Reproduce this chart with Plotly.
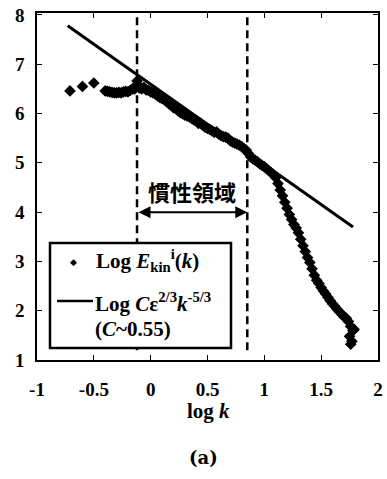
import plotly.graph_objects as go

# ---------------- data ----------------
log_k = [
    -0.71, -0.60, -0.50,
    -0.40, -0.38, -0.36, -0.34, -0.32, -0.30, -0.28, -0.26, -0.24, -0.22, -0.20, -0.18, -0.16, -0.14,
    -0.13, -0.12, -0.11, -0.10, -0.08, -0.06, -0.04, -0.02,
    0.00, 0.02, 0.04, 0.06, 0.08, 0.10, 0.12, 0.14, 0.16, 0.18,
    0.20, 0.22, 0.24, 0.26, 0.28, 0.30, 0.32, 0.34, 0.36, 0.38,
    0.40, 0.42, 0.44, 0.46, 0.48, 0.50, 0.52, 0.54, 0.56, 0.58,
    0.60, 0.62, 0.64, 0.66, 0.68, 0.70, 0.72, 0.74, 0.76, 0.78,
    0.80, 0.82, 0.84, 0.86, 0.88, 0.90, 0.92, 0.94, 0.96, 0.98,
    1.00, 1.02, 1.04, 1.06, 1.08, 1.10, 1.12, 1.14, 1.16, 1.18,
    1.20, 1.22, 1.24, 1.26, 1.28, 1.30, 1.32, 1.34, 1.36, 1.38,
    1.40, 1.42, 1.44, 1.46, 1.48, 1.50, 1.52, 1.54, 1.56, 1.58,
    1.60, 1.62, 1.64, 1.66, 1.68, 1.70, 1.72, 1.74, 1.76, 1.78,
    1.75, 1.77, 1.76, 1.79,
]
log_E = [
    6.46, 6.55, 6.62,
    6.46, 6.45, 6.44, 6.43, 6.42, 6.42, 6.43, 6.42, 6.44, 6.45, 6.44, 6.47, 6.50, 6.50,
    6.55, 6.66, 6.58, 6.52, 6.50, 6.53, 6.48, 6.47,
    6.44, 6.42, 6.40, 6.36, 6.33, 6.30, 6.28, 6.24, 6.20, 6.17,
    6.12, 6.10, 6.06, 6.02, 6.00, 5.97, 5.95, 5.93, 5.90, 5.87,
    5.85, 5.80, 5.80, 5.76, 5.72, 5.70, 5.68, 5.65, 5.62, 5.63,
    5.58, 5.55, 5.53, 5.52, 5.50, 5.45, 5.42, 5.40, 5.38, 5.36,
    5.33, 5.29, 5.26, 5.19, 5.12, 5.08, 5.05, 5.02, 4.98, 4.95,
    4.92, 4.88, 4.84, 4.80, 4.76, 4.70, 4.58, 4.45, 4.33, 4.20,
    4.08, 3.95, 3.85, 3.75, 3.68, 3.58, 3.45, 3.32, 3.20, 3.08,
    2.98, 2.85, 2.72, 2.62, 2.55, 2.47, 2.40, 2.34, 2.27, 2.20,
    2.14, 2.09, 2.03, 1.98, 1.93, 1.88, 1.85, 1.78, 1.68, 1.60,
    1.48, 1.38, 1.32, 1.62,
]

fit_log_k = [-0.73, 1.78]
fit_log_E = [7.78, 3.70]

inertial_bounds = [-0.12, 0.85]
dash_y_span = [1.2, 8.0]
arrow_level = 4.0

x_ticks = [-1, -0.5, 0, 0.5, 1, 1.5, 2]
x_tick_text = ["<b>-1</b>", "<b>-0.5</b>", "<b>0</b>", "<b>0.5</b>", "<b>1</b>", "<b>1.5</b>", "<b>2</b>"]
y_ticks = [1, 2, 3, 4, 5, 6, 7, 8]
y_tick_text = ["<b>1</b>", "<b>2</b>", "<b>3</b>", "<b>4</b>", "<b>5</b>", "<b>6</b>", "<b>7</b>", "<b>8</b>"]

# ---------------- layout helpers ----------------
W, H = 387, 479
ML, MR, MT, MB = 37, 9, 13, 119
PW, PH = W - ML - MR, H - MT - MB


def px(xp):
    return (xp - ML) / PW


def py(yp):
    return (H - MB - yp) / PH


SERIF = "Liberation Serif"

fig = go.Figure()
fig.add_trace(go.Scatter(x=fit_log_k, y=fit_log_E, mode="lines",
                         line=dict(color="black", width=3), showlegend=False,
                         hoverinfo="skip"))
fig.add_trace(go.Scatter(x=log_k, y=log_E, mode="markers",
                         marker=dict(symbol="diamond", size=9, color="black"),
                         showlegend=False))

# dashed bounds of the inertial range
for xb in inertial_bounds:
    fig.add_shape(type="line", xref="x", yref="y", x0=xb, x1=xb,
                  y0=dash_y_span[0], y1=dash_y_span[1],
                  line=dict(color="black", width=2.5, dash="8px,5px"))

# double-headed arrow
fig.add_annotation(x=inertial_bounds[1], y=arrow_level, ax=inertial_bounds[0], ay=arrow_level,
                   xref="x", yref="y", axref="x", ayref="y", text="",
                   showarrow=True, arrowhead=2, startarrowhead=2, arrowside="end+start",
                   arrowsize=1.2, startarrowsize=1.2, arrowwidth=2, arrowcolor="black")
fig.add_annotation(x=(inertial_bounds[0] + inertial_bounds[1]) / 2, y=arrow_level,
                   xref="x", yref="y", yshift=21, showarrow=False,
                   xanchor="center", yanchor="middle",
                   text="<b>慣性領域</b>",
                   font=dict(family="Noto Sans CJK TC", size=22, color="black"))

# legend box (manual)
fig.add_shape(type="rect", xref="paper", yref="paper",
              x0=px(50), x1=px(231), y0=py(348), y1=py(243),
              line=dict(color="black", width=2.5), fillcolor="white", layer="above")
fig.add_annotation(xref="paper", yref="paper", x=px(73), y=py(262), text="◆",
                   xanchor="center", yanchor="middle",
                   showarrow=False, font=dict(family="DejaVu Sans", size=9, color="black"))
fig.add_shape(type="line", xref="paper", yref="paper", x0=px(57), x1=px(93),
              y0=py(301), y1=py(301), line=dict(color="black", width=2.5), layer="above")
fig.add_annotation(xref="paper", yref="paper", x=px(94), y=py(260), xanchor="left",
                   yanchor="middle",
                   text="<b>Log <i>E</i><sub>kin</sub><sup>i</sup>(<i>k</i>)</b>",
                   showarrow=False, font=dict(family=SERIF, size=21, color="black"))
fig.add_annotation(xref="paper", yref="paper", x=px(93), y=py(302), xanchor="left",
                   yanchor="middle",
                   text="<b>Log <i>C</i>ε<sup>2/3</sup><i>k</i><sup>-5/3</sup></b>",
                   showarrow=False, font=dict(family=SERIF, size=21, color="black"))
fig.add_annotation(xref="paper", yref="paper", x=px(93), y=py(329), xanchor="left",
                   yanchor="middle",
                   text="<b>(<i>C</i>~0.55)</b>",
                   showarrow=False, font=dict(family=SERIF, size=21, color="black"))

# axis title and caption
fig.add_annotation(xref="paper", yref="paper", x=px(208), y=py(411),
                   xanchor="center", yanchor="middle",
                   text="<b>log <i>k</i></b>", showarrow=False,
                   font=dict(family=SERIF, size=21, color="black"))
fig.add_annotation(xref="paper", yref="paper", x=px(203), y=py(457),
                   xanchor="center", yanchor="middle",
                   text="<b>(a)</b>", showarrow=False,
                   font=dict(family="DejaVu Serif", size=18, color="black"))

axis_common = dict(showgrid=False, zeroline=False, showline=True, linecolor="black",
                   linewidth=1.5, ticks="inside", ticklen=5, tickwidth=1.2,
                   tickcolor="black", mirror="allticks", automargin=False,
                   tickfont=dict(family=SERIF, size=19, color="black"))

fig.update_layout(
    width=W, height=H,
    margin=dict(l=ML, r=MR, t=MT, b=MB, autoexpand=False),
    paper_bgcolor="white", plot_bgcolor="white",
    showlegend=False,
    xaxis=dict(range=[-1, 2], tickvals=x_ticks, ticktext=x_tick_text,
               ticklabelstandoff=11, **axis_common),
    yaxis=dict(range=[1, 8.04], tickvals=y_ticks, ticktext=y_tick_text,
               ticklabelstandoff=7, **axis_common),
)

fig.write_html("out.html", config={"displayModeBar": False},
               post_script="document.body.style.margin='0px';"
                           "document.documentElement.style.overflow='hidden';")
